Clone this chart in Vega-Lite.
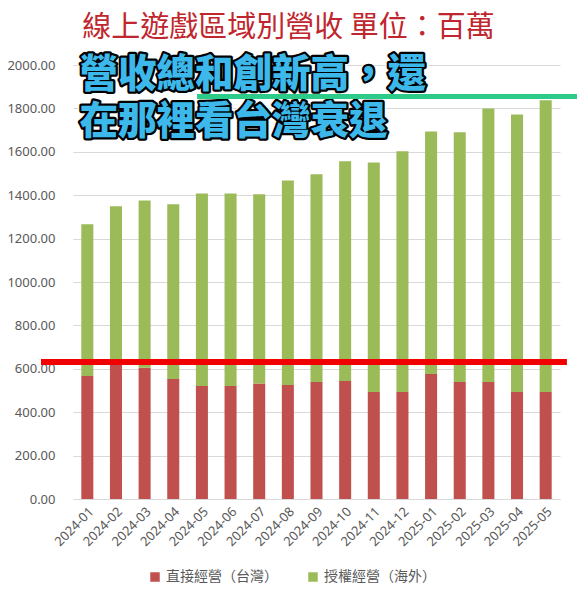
{
  "$schema": "https://vega.github.io/schema/vega-lite/v6.json",
  "autosize": {"type": "none"},
  "width": 487,
  "height": 434,
  "padding": {"left": 73, "top": 65, "right": 17, "bottom": 103},
  "background": "white",
  "title": {
    "text": "線上遊戲區域別營收  單位：百萬",
    "font": "Noto Sans CJK TC",
    "fontSize": 29,
    "fontWeight": "normal",
    "color": "#C0262D",
    "anchor": "middle",
    "dx": -28,
    "offset": 13
  },
  "config": {
    "view": {"stroke": null},
    "font": "Noto Sans",
    "axis": {"labelColor": "#595959", "labelFontSize": 13, "ticks": false, "title": null},
    "legend": {"labelFont": "Noto Sans CJK TC"}
  },
  "data": {
    "values": [
      {"month": "2024-01", "直接經營（台灣）": 567, "授權經營（海外）": 699},
      {"month": "2024-02", "直接經營（台灣）": 620, "授權經營（海外）": 729},
      {"month": "2024-03", "直接經營（台灣）": 605, "授權經營（海外）": 771},
      {"month": "2024-04", "直接經營（台灣）": 553, "授權經營（海外）": 805},
      {"month": "2024-05", "直接經營（台灣）": 521, "授權經營（海外）": 887},
      {"month": "2024-06", "直接經營（台灣）": 521, "授權經營（海外）": 887},
      {"month": "2024-07", "直接經營（台灣）": 532, "授權經營（海外）": 872},
      {"month": "2024-08", "直接經營（台灣）": 525, "授權經營（海外）": 943},
      {"month": "2024-09", "直接經營（台灣）": 539, "授權經營（海外）": 957},
      {"month": "2024-10", "直接經營（台灣）": 544, "授權經營（海外）": 1012},
      {"month": "2024-11", "直接經營（台灣）": 493, "授權經營（海外）": 1058},
      {"month": "2024-12", "直接經營（台灣）": 493, "授權經營（海外）": 1109},
      {"month": "2025-01", "直接經營（台灣）": 576, "授權經營（海外）": 1118},
      {"month": "2025-02", "直接經營（台灣）": 539, "授權經營（海外）": 1151},
      {"month": "2025-03", "直接經營（台灣）": 539, "授權經營（海外）": 1261},
      {"month": "2025-04", "直接經營（台灣）": 493, "授權經營（海外）": 1279},
      {"month": "2025-05", "直接經營（台灣）": 493, "授權經營（海外）": 1345}
    ]
  },
  "layer": [
    {
      "transform": [{"fold": ["直接經營（台灣）", "授權經營（海外）"], "as": ["series", "value"]}],
      "mark": {"type": "bar"},
      "encoding": {
        "x": {
          "field": "month",
          "type": "ordinal",
          "scale": {"paddingInner": 0.58, "paddingOuter": 0.29},
          "axis": {"labelAngle": -45, "labelPadding": 6, "domainColor": "#D9D9D9", "labelFont": "Noto Sans"}
        },
        "y": {
          "field": "value",
          "type": "quantitative",
          "stack": "zero",
          "scale": {"domain": [0, 2000], "nice": false},
          "axis": {
            "values": [0, 200, 400, 600, 800, 1000, 1200, 1400, 1600, 1800, 2000],
            "format": ".2f",
            "domain": false,
            "gridColor": "#D9D9D9",
            "labelPadding": 18
          }
        },
        "color": {
          "field": "series",
          "type": "nominal",
          "scale": {"domain": ["直接經營（台灣）", "授權經營（海外）"], "range": ["#C0504D", "#9BBB59"]},
          "legend": {
            "title": null,
            "orient": "none",
            "direction": "horizontal",
            "legendX": 75,
            "legendY": 505,
            "symbolType": "square",
            "symbolSize": 90,
            "symbolStrokeWidth": 0,
            "labelFontSize": 14,
            "labelColor": "#595959",
            "columnPadding": 28
          }
        },
        "order": {"field": "series", "sort": "descending"}
      }
    },
    {
      "mark": {"type": "rule", "color": "#F00000", "strokeWidth": 6},
      "encoding": {
        "x": {"datum": "2024-01", "type": "ordinal", "bandPosition": -3.3},
        "x2": {"datum": "2025-05", "bandPosition": 2.2},
        "y": {"datum": 631, "type": "quantitative"}
      }
    },
    {
      "data": {"values": [{"line": "營收總和創新高，還", "pos": 1956}, {"line": "在那裡看台灣衰退", "pos": 1737}]},
      "layer": [
        {"mark": {"type": "text", "align": "left", "baseline": "middle", "font": "Noto Sans CJK TC", "fontSize": 38.5, "fontWeight": 900, "fill": "white", "stroke": "white", "strokeWidth": 7, "strokeJoin": "round"}},
        {"mark": {"type": "text", "align": "left", "baseline": "middle", "font": "Noto Sans CJK TC", "fontSize": 38.5, "fontWeight": 900, "fill": "black", "stroke": "black", "strokeWidth": 4.5, "strokeJoin": "round"}},
        {"mark": {"type": "text", "align": "left", "baseline": "middle", "font": "Noto Sans CJK TC", "fontSize": 38.5, "fontWeight": 900, "fill": "#3DB8EA"}}
      ],
      "encoding": {
        "x": {"datum": "2024-01", "type": "ordinal", "bandPosition": -0.15},
        "y": {"field": "pos", "type": "quantitative"},
        "text": {"field": "line"}
      }
    },
    {
      "mark": {"type": "rule", "color": "#2DCB8A", "strokeWidth": 4.5},
      "encoding": {
        "x": {"datum": "2024-05", "type": "ordinal", "bandPosition": 0.1},
        "x2": {"datum": "2025-05", "bandPosition": 3.17},
        "y": {"datum": 1855, "type": "quantitative"}
      }
    }
  ]
}
